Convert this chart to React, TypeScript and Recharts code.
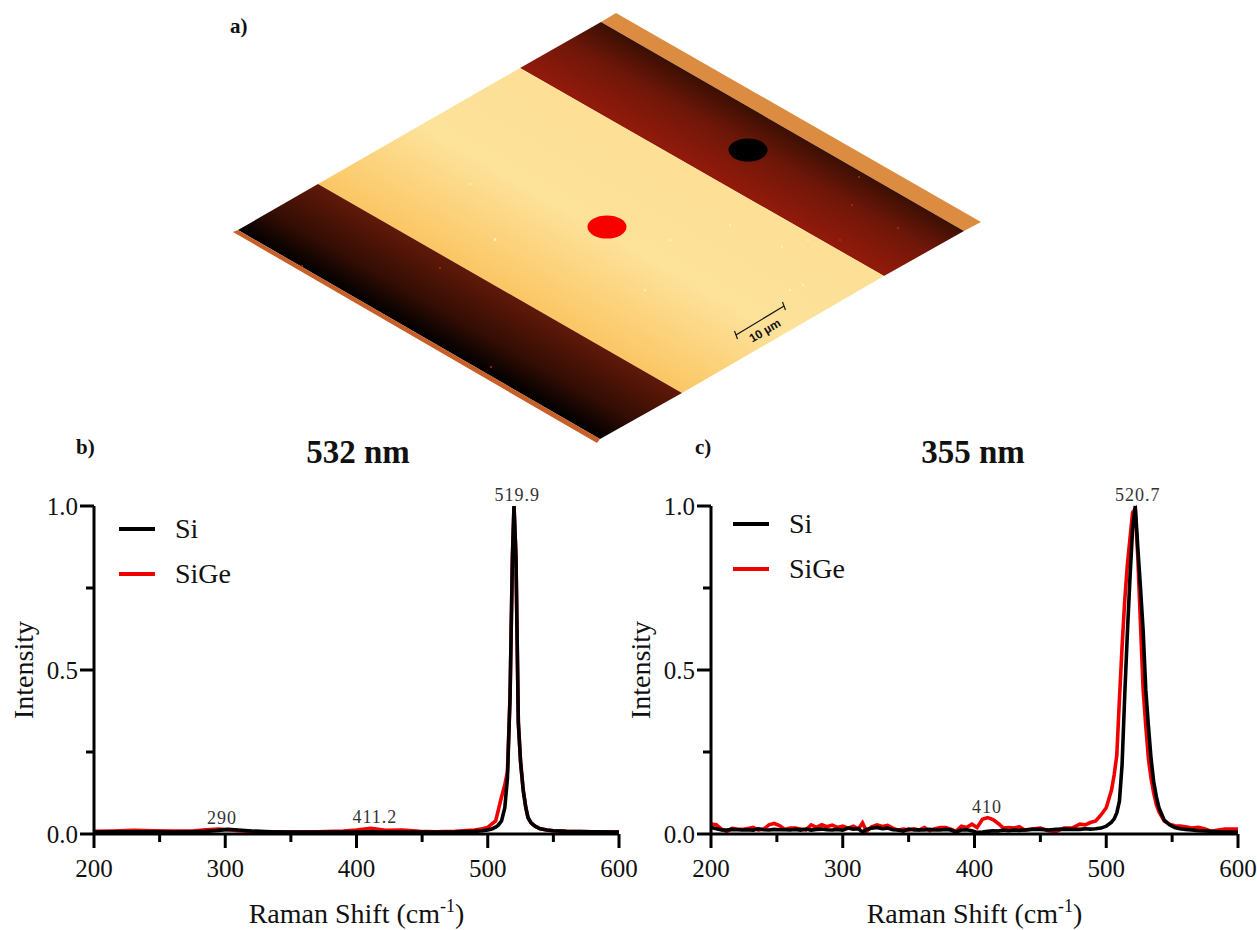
import React from 'react';
import { LineChart, Line, XAxis, YAxis, Legend, ReferenceDot } from 'recharts';

const SERIF = '"Liberation Serif", serif';

const X_TICKS = [200, 250, 300, 350, 400, 450, 500, 550, 600];
const Y_TICKS = [0, 0.25, 0.5, 0.75, 1];

// 532 nm panel
const shift532 = [200, 215, 230, 245, 260, 275, 285, 295, 302, 310, 320, 335, 350, 370, 390, 400, 411, 422, 435, 448, 460, 475, 490, 496, 500, 503, 506, 508, 510.5, 513, 515, 517, 518.8, 520, 521.5, 523.3, 525, 527, 529, 530.7, 533, 536, 540, 545, 550, 560, 580, 600];
const si532 = [0.006, 0.007, 0.007, 0.007, 0.006, 0.007, 0.008, 0.011, 0.014, 0.012, 0.009, 0.007, 0.006, 0.006, 0.006, 0.006, 0.007, 0.006, 0.006, 0.006, 0.006, 0.006, 0.008, 0.01, 0.012, 0.015, 0.021, 0.027, 0.04, 0.08, 0.17, 0.42, 0.845, 1, 0.845, 0.34, 0.22, 0.134, 0.08, 0.05, 0.034, 0.024, 0.016, 0.012, 0.01, 0.008, 0.007, 0.006];
const sige532 = [0.008, 0.009, 0.011, 0.01, 0.009, 0.009, 0.013, 0.015, 0.013, 0.01, 0.008, 0.006, 0.006, 0.007, 0.009, 0.012, 0.017, 0.011, 0.012, 0.008, 0.007, 0.008, 0.012, 0.016, 0.02, 0.03, 0.04, 0.072, 0.113, 0.15, 0.19, 0.42, 0.845, 1, 0.845, 0.34, 0.22, 0.134, 0.08, 0.05, 0.034, 0.024, 0.016, 0.012, 0.01, 0.008, 0.007, 0.006];

// 355 nm panel
const shift355 = [200, 204, 208, 212, 216, 220, 224, 228, 232, 236, 240, 244, 248, 252, 256, 260, 264, 268, 272, 276, 280, 284, 288, 292, 296, 300, 304, 308, 312, 315, 318, 322, 326, 330, 334, 338, 342, 346, 350, 354, 358, 362, 366, 370, 374, 378, 382, 386, 390, 394, 398, 402, 406, 410, 414, 418, 422, 426, 430, 434, 438, 444, 450, 456, 462, 468, 474, 480, 484, 488, 492, 496, 500, 504, 506, 508, 510, 512, 514, 516, 518, 520, 522, 524, 526, 528, 530, 532, 534, 536, 538, 540, 544, 548, 552, 556, 560, 565, 570, 575, 580, 585, 590, 595, 600];
const si355 = [0.02, 0.016, 0.012, 0.012, 0.014, 0.013, 0.012, 0.013, 0.012, 0.016, 0.013, 0.012, 0.014, 0.013, 0.013, 0.012, 0.014, 0.012, 0.015, 0.012, 0.014, 0.015, 0.013, 0.012, 0.014, 0.012, 0.018, 0.015, 0.016, 0.006, 0.014, 0.018, 0.02, 0.016, 0.018, 0.013, 0.012, 0.009, 0.015, 0.012, 0.013, 0.012, 0.014, 0.012, 0.012, 0.014, 0.012, 0.006, 0.012, 0.013, 0.01, 0.005, 0.006, 0.008, 0.01, 0.009, 0.012, 0.01, 0.012, 0.011, 0.012, 0.014, 0.014, 0.012, 0.014, 0.015, 0.014, 0.014, 0.016, 0.015, 0.016, 0.018, 0.024, 0.036, 0.046, 0.064, 0.1, 0.21, 0.42, 0.61, 0.78, 0.93, 1, 0.87, 0.75, 0.62, 0.44, 0.33, 0.23, 0.16, 0.115, 0.08, 0.042, 0.028, 0.02, 0.016, 0.014, 0.012, 0.01, 0.009, 0.008, 0.007, 0.006, 0.006, 0.005];
const sige355 = [0.03, 0.028, 0.015, 0.008, 0.017, 0.015, 0.014, 0.017, 0.02, 0.012, 0.015, 0.028, 0.032, 0.026, 0.014, 0.018, 0.018, 0.015, 0.012, 0.028, 0.02, 0.028, 0.022, 0.027, 0.02, 0.024, 0.018, 0.024, 0.016, 0.034, 0.008, 0.022, 0.028, 0.023, 0.026, 0.018, 0.012, 0.015, 0.012, 0.016, 0.012, 0.02, 0.01, 0.016, 0.02, 0.02, 0.015, 0.008, 0.024, 0.02, 0.03, 0.02, 0.045, 0.05, 0.044, 0.032, 0.018, 0.02, 0.018, 0.022, 0.012, 0.015, 0.018, 0.01, 0.008, 0.018, 0.018, 0.03, 0.028, 0.035, 0.04, 0.058, 0.08, 0.134, 0.18, 0.24, 0.41, 0.57, 0.71, 0.82, 0.9, 0.98, 0.99, 0.84, 0.64, 0.44, 0.33, 0.23, 0.17, 0.125, 0.09, 0.068, 0.04, 0.03, 0.025, 0.024, 0.022, 0.018, 0.02, 0.015, 0.008, 0.012, 0.015, 0.015, 0.015];

// x here is where the text sits over the peak, not the peak itself
const peaks532 = [
  { x: 522.5, y: 1, text: '519.9' },
  { x: 414, y: 0.017, text: '411.2' },
  { x: 297.5, y: 0.014, text: '290' },
];
const peaks355 = [
  { x: 524, y: 1, text: '520.7' },
  { x: 409.5, y: 0.05, text: '410' },
];

// little bright/dark grains on the AFM scan
const grainsLight = [[470, 184], [495, 240], [495, 239], [605, 238], [670, 240], [808, 240], [782, 247], [803, 285], [790, 290], [645, 290], [730, 225]];
const grainsRed = [[859, 177], [852, 205], [898, 228], [840, 240], [440, 268], [491, 367], [302, 266]];

const buildRows = (xs: number[], si: number[], sige: number[]) =>
  xs.map((x, i) => ({ x, si: si[i], sige: sige[i] }));

const XTick = ({ x, y, payload }: any) => {
  const major = payload.value % 100 === 0;
  return (
    <g>
      <line x1={x} y1={y} x2={x} y2={y + (major ? 14 : 8)} stroke="#000" strokeWidth={3} />
      {major && (
        <text x={x} y={y + 43} textAnchor="middle" fontSize={25} fontFamily={SERIF} fill="#111">
          {payload.value}
        </text>
      )}
    </g>
  );
};

const YTick = ({ x, y, payload }: any) => {
  const major = payload.value * 2 === Math.round(payload.value * 2);
  return (
    <g>
      <line x1={x} y1={y} x2={x - (major ? 14 : 8)} y2={y} stroke="#000" strokeWidth={3} />
      {major && (
        <text x={x - 16} y={y + 9} textAnchor="end" fontSize={25} fontFamily={SERIF} fill="#111">
          {payload.value.toFixed(1)}
        </text>
      )}
    </g>
  );
};

const XTitle = ({ viewBox }: any) => {
  const cx = viewBox.x + viewBox.width / 2;
  return (
    <text x={cx} y={viewBox.y + 89} textAnchor="middle" fontSize={28} fontFamily={SERIF} fill="#111">
      <tspan>Raman Shift (cm</tspan>
      <tspan fontSize={18} dy={-11}>-1</tspan>
      <tspan dy={11}>)</tspan>
    </text>
  );
};

const YTitle = ({ viewBox, left }: any) => {
  const cy = viewBox.y + viewBox.height / 2;
  return (
    <text
      x={left}
      y={cy}
      transform={`rotate(-90 ${left} ${cy})`}
      textAnchor="middle"
      fontSize={28}
      fontFamily={SERIF}
      fill="#111"
    >
      Intensity
    </text>
  );
};

const LegendRows = () => (
  <div style={{ fontFamily: SERIF, fontSize: 28, color: '#111' }}>
    {[
      { name: 'Si', color: '#000' },
      { name: 'SiGe', color: '#f00000' },
    ].map((s) => (
      <div key={s.name} style={{ display: 'flex', alignItems: 'center', height: 45 }}>
        <span style={{ width: 36, height: 4, background: s.color, marginRight: 20 }} />
        <span>{s.name}</span>
      </div>
    ))}
  </div>
);

const Spectrum = ({ rows, peaks, left, width, axisW, legendX, legendY }: any) => (
  <div style={{ position: 'absolute', left, top: 470 }}>
    <LineChart width={width} height={460} data={rows} margin={{ top: 36, right: 20, bottom: 0, left: 0 }}>
      <XAxis
        dataKey="x"
        type="number"
        domain={[200, 600]}
        ticks={X_TICKS}
        interval={0}
        height={96}
        tickLine={false}
        tickSize={0}
        tickMargin={0}
        axisLine={{ stroke: '#000', strokeWidth: 3 }}
        tick={<XTick />}
        label={<XTitle />}
      />
      <YAxis
        type="number"
        domain={[0, 1]}
        ticks={Y_TICKS}
        interval={0}
        width={axisW}
        tickLine={false}
        tickSize={0}
        tickMargin={0}
        axisLine={{ stroke: '#000', strokeWidth: 3 }}
        tick={<YTick />}
        label={<YTitle left={axisW - 61} />}
      />
      <Legend
        content={<LegendRows />}
        layout="vertical"
        align="center"
        verticalAlign="middle"
        wrapperStyle={{ position: 'absolute', left: legendX, top: legendY, width: 140, bottom: 'auto' }}
      />
      <Line dataKey="sige" stroke="#f00000" strokeWidth={3.6} dot={false} type="linear" isAnimationActive={false} />
      <Line dataKey="si" stroke="#000" strokeWidth={3.6} dot={false} type="linear" isAnimationActive={false} />
      {peaks.map((p: any) => (
        <ReferenceDot
          key={p.text}
          x={p.x}
          y={p.y}
          r={0}
          fill="none"
          stroke="none"
          label={{ value: p.text, position: 'top', offset: 5, fontSize: 18, fontFamily: SERIF, fill: '#333', letterSpacing: 1 }}
        />
      ))}
    </LineChart>
  </div>
);

const Scan = () => (
  <svg width={1257} height={930} style={{ position: 'absolute', left: 0, top: 0 }}>
    <defs>
      <linearGradient id="bandTop" gradientUnits="userSpaceOnUse" x1={702} y1={172} x2={742} y2={102}>
        <stop offset="0" stopColor="#931a0b" />
        <stop offset="0.55" stopColor="#6f1709" />
        <stop offset="1" stopColor="#3a0f03" />
      </linearGradient>
      <linearGradient id="bandLow" gradientUnits="userSpaceOnUse" x1={500} y1={288} x2={460} y2={358}>
        <stop offset="0" stopColor="#611908" />
        <stop offset="0.6" stopColor="#330d04" />
        <stop offset="1" stopColor="#000" />
      </linearGradient>
      <linearGradient id="flat" gradientUnits="userSpaceOnUse" x1={702} y1={172} x2={601} y2={347}>
        <stop offset="0" stopColor="#fddf95" />
        <stop offset="0.5" stopColor="#fde29a" />
        <stop offset="1" stopColor="#fbc664" />
      </linearGradient>
    </defs>
    <polygon points="616,13 981,222 964,231 601,22" fill="#dc8c40" />
    <polygon points="601,22 964,231 884,276 520,68" fill="url(#bandTop)" />
    <polygon points="520,68 884,276 682,393 318,184" fill="url(#flat)" />
    <polygon points="318,184 682,393 600,439 238,230" fill="url(#bandLow)" />
    <polygon points="238,230 600,439 597,443 233,232" fill="#c65f28" />
    {grainsLight.map(([x, y], i) => <circle key={i} cx={x} cy={y} r={1} fill="#fff3c8" />)}
    {grainsRed.map(([x, y], i) => <circle key={i} cx={x} cy={y} r={1} fill="#b32c10" />)}
    <ellipse cx={607} cy={227} rx={19.5} ry={11.5} fill="#f80000" />
    <ellipse cx={748} cy={150} rx={19.5} ry={11.5} fill="#000" />
    <g stroke="#111" strokeWidth={1.2}>
      <line x1={736} y1={335} x2={784} y2={306} />
      <line x1={734.5} y1={331} x2={737.5} y2={339} />
      <line x1={782.5} y1={302} x2={785.5} y2={310} />
    </g>
    <text
      x={767}
      y={334}
      transform="rotate(-31 767 334)"
      textAnchor="middle"
      fontSize={12}
      fontWeight="bold"
      fontFamily='"Liberation Sans", sans-serif'
      fill="#111"
    >
      10 µm
    </text>
    <g fontFamily={SERIF} fontWeight="bold" fill="#111">
      <text x={230} y={33} fontSize={21}>a)</text>
      <text x={76} y={454} fontSize={21}>b)</text>
      <text x={695} y={454} fontSize={21}>c)</text>
      <text x={358} y={463} fontSize={33} textAnchor="middle">532 nm</text>
      <text x={973} y={463} fontSize={33} textAnchor="middle">355 nm</text>
    </g>
  </svg>
);

export default function App() {
  return (
    <div style={{ position: 'absolute', left: 0, top: 0, width: 1257, height: 930, background: '#fff', overflow: 'hidden' }}>
      <Scan />
      <Spectrum
        rows={buildRows(shift532, si532, sige532)}
        peaks={peaks532}
        left={0}
        width={639}
        axisW={94}
        legendX={119}
        legendY={36}
      />
      <Spectrum
        rows={buildRows(shift355, si355, sige355)}
        peaks={peaks355}
        left={618}
        width={640}
        axisW={93}
        legendX={115}
        legendY={31}
      />
    </div>
  );
}
